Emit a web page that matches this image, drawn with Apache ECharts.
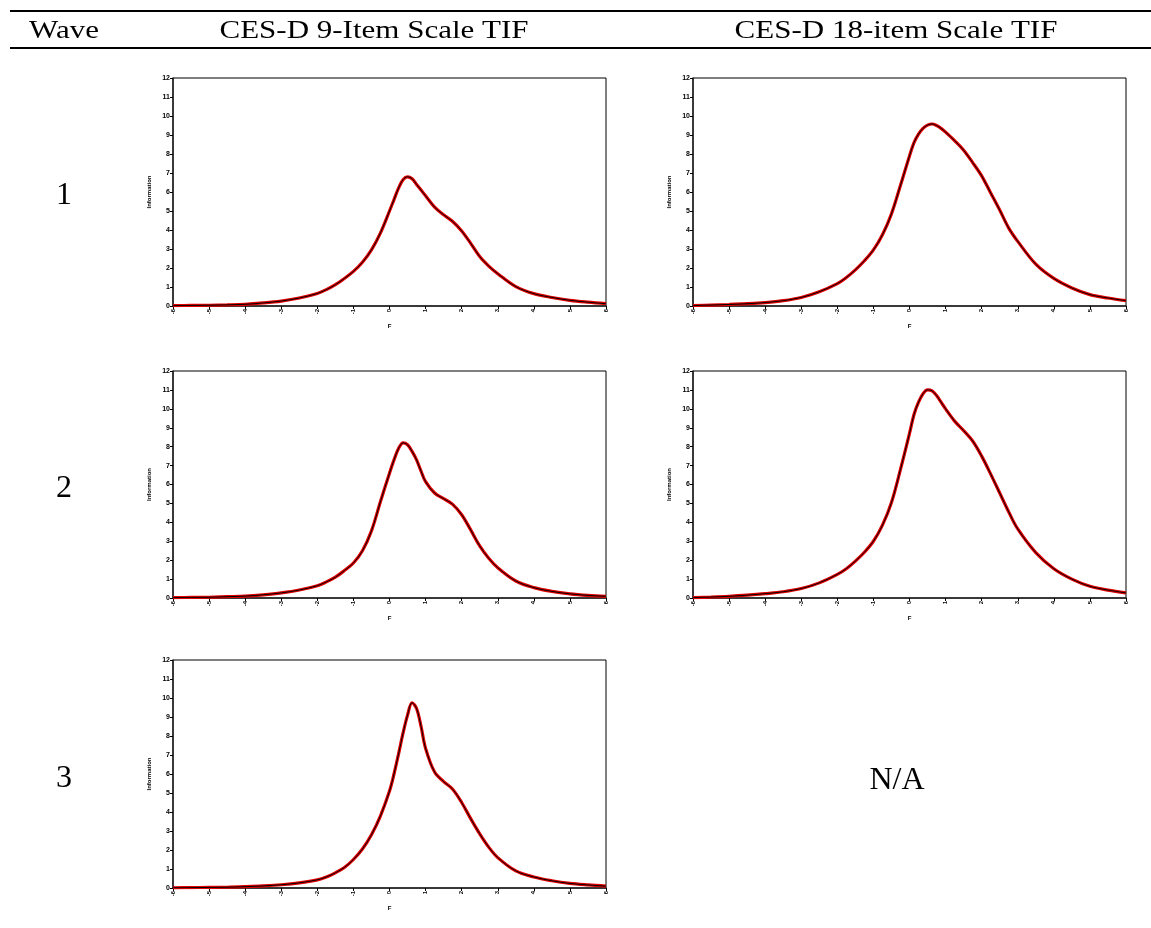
<!DOCTYPE html>
<html>
<head>
<meta charset="utf-8">
<script src="https://cdn.jsdelivr.net/npm/echarts@6/dist/echarts.min.js"></script>
<style>
  html, body { margin: 0; padding: 0; background: #fff; }
  #main { width: 1151px; height: 928px; }
</style>
</head>
<body>
<div id="main"></div>
<script>
// theta grid (F) shared by all panels
const theta = [-6, -5.5, -5, -4.5, -4, -3.5, -3, -2.5, -2, -1.75, -1.5, -1.25, -1, -0.75, -0.5, -0.25,
  0, 0.125, 0.25, 0.375, 0.5, 0.625, 0.75, 0.875, 1, 1.25, 1.5, 1.75, 2, 2.25, 2.5, 2.75, 3,
  3.5, 4, 4.5, 5, 5.5, 6]

// test information
const item9Wave1 = [0.02, 0.03, 0.04, 0.06, 0.09, 0.16, 0.26, 0.42, 0.66, 0.86, 1.12, 1.45, 1.82, 2.3, 2.95, 3.85,
  5.0, 5.6, 6.2, 6.65, 6.8, 6.7, 6.4, 6.1, 5.8, 5.2, 4.8, 4.45, 3.95, 3.3, 2.6, 2.1, 1.7,
  1.02, 0.65, 0.45, 0.3, 0.2, 0.12]
const item18Wave1 = [0.02, 0.05, 0.08, 0.12, 0.18, 0.28, 0.45, 0.75, 1.18, 1.5, 1.9, 2.38, 2.95, 3.75, 4.85, 6.35,
  7.9, 8.6, 9.05, 9.35, 9.52, 9.58, 9.5, 9.35, 9.15, 8.7, 8.2, 7.55, 6.85, 5.95, 5.05, 4.1, 3.4,
  2.2, 1.45, 0.95, 0.6, 0.42, 0.28]
const item9Wave2 = [0.02, 0.03, 0.04, 0.07, 0.1, 0.17, 0.27, 0.42, 0.65, 0.85, 1.1, 1.45, 1.85, 2.5, 3.55, 5.1,
  6.6, 7.3, 7.9, 8.2, 8.1, 7.75, 7.3, 6.7, 6.15, 5.55, 5.25, 4.95, 4.4, 3.6, 2.75, 2.1, 1.6,
  0.9, 0.55, 0.35, 0.22, 0.14, 0.09]
const item18Wave2 = [0.02, 0.05, 0.09, 0.15, 0.23, 0.33, 0.5, 0.8, 1.25, 1.55, 1.95, 2.42, 3.0, 3.85, 5.05, 6.8,
  8.7, 9.7, 10.35, 10.8, 11.0, 10.95, 10.7, 10.35, 10.0, 9.35, 8.85, 8.3, 7.5, 6.55, 5.55, 4.55, 3.65,
  2.4, 1.55, 1.0, 0.62, 0.42, 0.27]
const item9Wave3 = [0.01, 0.02, 0.03, 0.04, 0.07, 0.11, 0.17, 0.27, 0.43, 0.58, 0.8, 1.08, 1.5, 2.05, 2.8, 3.8,
  5.1, 6.0, 7.05, 8.15, 9.1, 9.75, 9.45, 8.5, 7.35, 6.1, 5.6, 5.2, 4.5, 3.65, 2.85, 2.15, 1.6,
  0.9, 0.58, 0.38, 0.24, 0.16, 0.1]

const headers = ['Wave', 'CES-D 9-Item Scale TIF', 'CES-D 18-item Scale TIF']
const waves = ['1', '2', '3']

const panels = [
  { values: item9Wave1, grid: { left: 173, top: 78, width: 433, height: 228 } },
  { values: item18Wave1, grid: { left: 693, top: 78, width: 433, height: 228 } },
  { values: item9Wave2, grid: { left: 173, top: 371, width: 433, height: 227 } },
  { values: item18Wave2, grid: { left: 693, top: 371, width: 433, height: 227 } },
  { values: item9Wave3, grid: { left: 173, top: 660, width: 433, height: 228 } }
]

const tickFont = { fontFamily: 'Liberation Sans', fontWeight: 'bold', color: '#000' }
const serif = 'Liberation Serif'

const chart = echarts.init(document.getElementById('main'), null, { renderer: 'canvas' })

const grid = []
const xAxis = []
const yAxis = []
const series = []

panels.forEach((p, i) => {
  grid.push(Object.assign({ show: true, borderColor: '#000', borderWidth: 1, containLabel: false }, p.grid))
  xAxis.push({
    gridIndex: i,
    type: 'value',
    min: -6,
    max: 6,
    interval: 1,
    name: 'F',
    nameLocation: 'middle',
    nameGap: 17,
    nameTextStyle: Object.assign({ fontSize: 6 }, tickFont),
    axisLine: { onZero: false, lineStyle: { color: '#222', width: 1.5 } },
    axisTick: { length: 3, lineStyle: { color: '#000' } },
    axisLabel: Object.assign({ fontSize: 6, rotate: 90, margin: 3 }, tickFont),
    splitLine: { show: false }
  })
  yAxis.push({
    gridIndex: i,
    type: 'value',
    min: 0,
    max: 12,
    interval: 1,
    name: 'Information',
    nameLocation: 'middle',
    nameGap: 21,
    nameTextStyle: Object.assign({ fontSize: 6 }, tickFont),
    axisLine: { onZero: false, lineStyle: { color: '#222', width: 1.5 } },
    axisTick: { length: 3, lineStyle: { color: '#000' } },
    axisLabel: Object.assign({ fontSize: 7, margin: 3 }, tickFont),
    splitLine: { show: false }
  })
  const data = theta.map((t, k) => [t, p.values[k]])
  series.push({
    type: 'line', xAxisIndex: i, yAxisIndex: i, data: data,
    smooth: 0.35, showSymbol: false, silent: true,
    lineStyle: { color: '#e00000', width: 3.2 }, z: 2
  })
  series.push({
    type: 'line', xAxisIndex: i, yAxisIndex: i, data: data,
    smooth: 0.35, showSymbol: false, silent: true,
    lineStyle: { color: '#000', width: 1 }, z: 3
  })
})

const headerX = [64, 374, 896]
const rowY = [196, 489, 779]

const graphic = [
  { type: 'line', shape: { x1: 10, y1: 11, x2: 1151, y2: 11 }, style: { stroke: '#000', lineWidth: 2 } },
  { type: 'line', shape: { x1: 10, y1: 48, x2: 1151, y2: 48 }, style: { stroke: '#000', lineWidth: 2 } }
]
headers.forEach((h, i) => {
  graphic.push({
    type: 'text', x: headerX[i], y: 31, scaleY: 0.82,
    style: { text: h, fontFamily: serif, fontSize: 31, fill: '#000', align: 'center', verticalAlign: 'middle' }
  })
})
waves.forEach((w, i) => {
  graphic.push({
    type: 'text', x: 64, y: rowY[i],
    style: { text: w, fontFamily: serif, fontSize: 32, fill: '#000', align: 'center', verticalAlign: 'middle' }
  })
})
graphic.push({
  type: 'text', x: 897, y: 781,
  style: { text: 'N/A', fontFamily: serif, fontSize: 32, fill: '#000', align: 'center', verticalAlign: 'middle' }
})

chart.setOption({
  animation: false,
  backgroundColor: '#fff',
  grid: grid,
  xAxis: xAxis,
  yAxis: yAxis,
  series: series,
  graphic: graphic
})
</script>
</body>
</html>
